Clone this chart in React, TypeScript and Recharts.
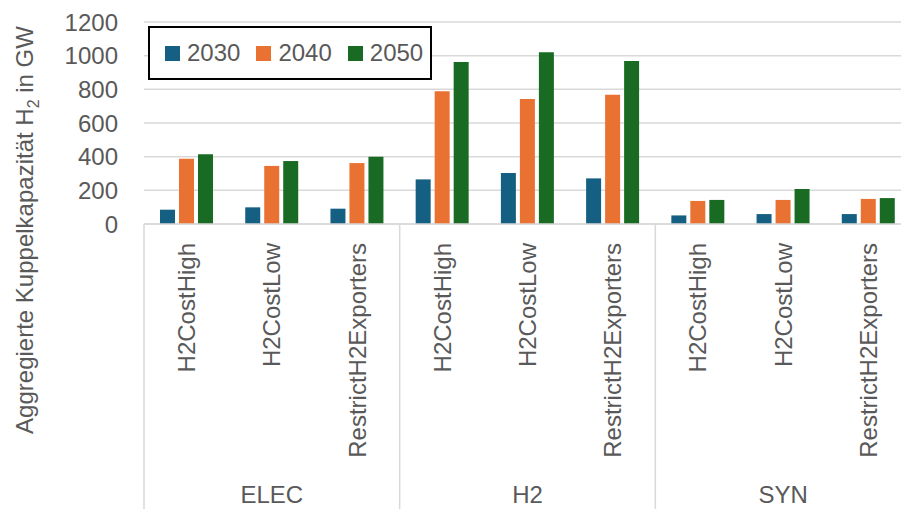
import React from "react";
import {
  BarChart,
  Bar,
  XAxis,
  YAxis,
  CartesianGrid,
  Legend,
} from "recharts";

const groupNames = ["ELEC", "H2", "SYN"];
const scenarios = ["H2CostHigh", "H2CostLow", "RestrictH2Exporters"];
const y2030 = [85, 99, 91, 265, 303, 271, 51, 59, 59];
const y2040 = [388, 345, 362, 788, 743, 768, 137, 143, 149];
const y2050 = [414, 374, 400, 962, 1020, 968, 143, 208, 154];
const yTicks = [0, 200, 400, 600, 800, 1000, 1200];

const FONT = "'Liberation Sans', Arial, sans-serif";
const FS = 24;
const TEXT = "#595959";
const LINE = "#d9d9d9";

const chartData = groupNames.flatMap((g, gi) =>
  scenarios.map((s, si) => {
    const i = gi * 3 + si;
    return { key: `${g}-${s}`, group: g, name: s, y2030: y2030[i], y2040: y2040[i], y2050: y2050[i] };
  })
);

const AXIS_H = 285;

const CategoryTick = (props: any) => {
  const { x, y, payload, index } = props;
  const half = payload.offset ?? 42.6;
  const row = chartData[index];
  return (
    <g>
      <text
        transform={`translate(${x + 8.5}, ${y + 19}) rotate(-90)`}
        textAnchor="end"
        fill={TEXT}
        fontSize={FS}
        fontFamily={FONT}
      >
        {payload.value}
      </text>
      {index % 3 === 1 && (
        <text x={x} y={y + 279} textAnchor="middle" fill={TEXT} fontSize={FS} fontFamily={FONT}>
          {row.group}
        </text>
      )}
      {index % 3 === 0 && (
        <line x1={x - half} x2={x - half} y1={y} y2={y + AXIS_H} stroke={LINE} strokeWidth={1.5} />
      )}
      {index === chartData.length - 1 && (
        <line x1={x + half} x2={x + half} y1={y} y2={y + AXIS_H} stroke={LINE} strokeWidth={1.5} />
      )}
    </g>
  );
};

const renderLegend = (props: any) => {
  const items = props.payload || [];
  return (
    <div
      style={{
        boxSizing: "border-box",
        width: 284,
        height: 54,
        border: "2px solid #000",
        background: "#fff",
        display: "flex",
        alignItems: "center",
        paddingLeft: 15,
        fontFamily: FONT,
        fontSize: FS,
        color: TEXT,
      }}
    >
      {items.map((it: any) => (
        <div key={it.value} style={{ display: "flex", alignItems: "center", marginRight: 16 }}>
          <span style={{ width: 15, height: 15, background: it.color, marginRight: 7, display: "inline-block" }} />
          <span>{it.value}</span>
        </div>
      ))}
    </div>
  );
};

const renderYTitle = () => (
  <text
    transform="translate(33, 230) rotate(-90)"
    textAnchor="middle"
    fill={TEXT}
    fontSize={FS}
    fontFamily={FONT}
  >
    Aggregierte Kuppelkapazität H
    <tspan fontSize={16} dy={6}>2</tspan>
    <tspan dy={-6}> in GW</tspan>
  </text>
);

const App: React.FC = () => {
  return (
    <div
      style={{
        position: "absolute",
        left: 0,
        top: 0,
        width: 901,
        height: 509,
        overflow: "hidden",
        background: "#fff",
      }}
    >
      <BarChart
        width={920}
        height={509}
        data={chartData}
        margin={{ top: 22, right: 9, bottom: 0, left: 0 }}
        barSize={15}
        barGap={4}
        style={{ fontFamily: FONT }}
      >
        <CartesianGrid vertical={false} stroke={LINE} strokeWidth={1.5} />
        <XAxis
          dataKey="name"
          interval={0}
          height={AXIS_H}
          tickLine={false}
          tickSize={0}
          tickMargin={0}
          axisLine={{ stroke: LINE, strokeWidth: 1.5 }}
          tick={<CategoryTick />}
        />
        <YAxis
          width={144}
          domain={[0, 1200]}
          ticks={yTicks}
          interval={0}
          axisLine={false}
          tickLine={false}
          tickSize={0}
          tickMargin={26}
          tick={{ fill: TEXT, fontSize: FS, fontFamily: FONT }}
          label={renderYTitle}
        />
        <Legend
          layout="horizontal"
          verticalAlign="middle"
          align="center"
          wrapperStyle={{ left: 148, top: 26, width: "auto" }}
          content={renderLegend}
        />
        <Bar dataKey="y2030" name="2030" fill="#156082" isAnimationActive={false} />
        <Bar dataKey="y2040" name="2040" fill="#E97132" isAnimationActive={false} />
        <Bar dataKey="y2050" name="2050" fill="#196B24" isAnimationActive={false} />
      </BarChart>
    </div>
  );
};

export default App;
